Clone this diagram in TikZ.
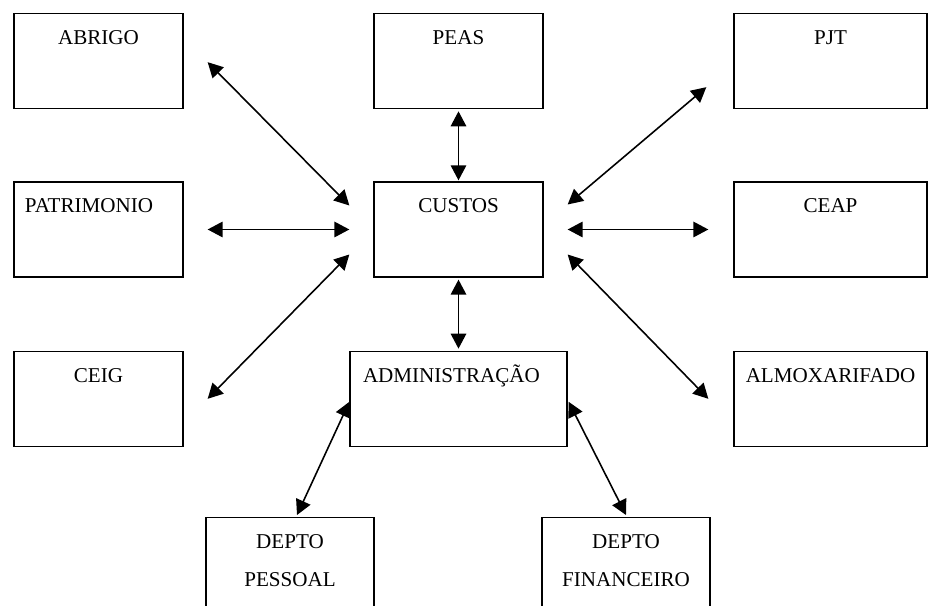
\documentclass[tikz,border=0pt]{standalone}
\usepackage{fontspec}
\setmainfont{Liberation Serif}
\usetikzlibrary{calc, arrows.meta, positioning}
\tikzset{
  setor/.style={draw, line width=0.75pt, anchor=north, minimum width=33.8mm, inner ysep=0pt,
    text height=6.2mm, text depth=12.8mm, align=center, font=\fontsize{12}{14.5}\selectfont},
  depto/.style={setor, minimum width=33.6mm, text height=13.8mm, text depth=20mm},
  fluxo/.style={{Triangle[length=3mm,width=3.1mm]}-{Triangle[length=3mm,width=3.1mm]}, line width=0.9pt}
}

\begin{document}
\begin{tikzpicture}[x=0.2mm, y=-0.2mm]
  \useasboundingbox (0,0) rectangle (945,605);
  \clip (0,0) rectangle (945,605);
  \node[setor] (abrigo) at (98.5,13) {ABRIGO};
  \node[setor, below=14.4mm of abrigo, inner xsep=2.2mm, text width=29.4mm, align=left] (patrimonio) {PATRIMONIO};
  \node[setor, below=14.6mm of patrimonio] (ceig) {CEIG};
  \node[setor] (peas) at (458.5,13) {PEAS};
  \node[setor, below=14.4mm of peas] (custos) {CUSTOS};
  \node[setor, below=14.6mm of custos, inner xsep=2.6mm, text width=38.2mm, align=left] (admin) {ADMINISTRAÇÃO};
  \node[setor, minimum width=38.6mm] (pjt) at (830.5,13) {PJT};
  \node[setor, minimum width=38.6mm, below=14.4mm of pjt] (ceap) {CEAP};
  \node[setor, minimum width=38.6mm, below=14.6mm of ceap] (almox) {ALMOXARIFADO};
  \node[depto] (pessoal) at (290,517) {DEPTO\\[7pt]PESSOAL};
  \node[depto] (financeiro) at (626,517) {DEPTO\\[7pt]FINANCEIRO};
  \draw[fluxo] ($(abrigo.east)+(24,1)$) -- ($(custos.west)+(-24,-24)$);
  \draw[fluxo] ($(patrimonio.east)+(24,0)$) -- ($(custos.west)+(-24,0)$);
  \draw[fluxo] ($(ceig.east)+(24,0)$) -- ($(custos.west)+(-24,25)$);
  \draw[fluxo] ($(peas.south)+(0,2)$) -- ($(custos.north)+(0,-1)$);
  \draw[fluxo] ($(custos.south)+(0,2)$) -- ($(admin.north)+(0,-2)$);
  \draw[fluxo] ($(custos.east)+(24,-25)$) -- ($(pjt.west)+(-27,26)$);
  \draw[fluxo] ($(custos.east)+(24,0)$) -- ($(ceap.west)+(-25,0)$);
  \draw[fluxo] ($(custos.east)+(24,25)$) -- ($(almox.west)+(-25,0)$);
  \draw[fluxo] ($(admin.west)+(0,3)$) -- ($(pessoal.north)+(7,-2)$);
  \draw[fluxo] ($(admin.east)+(1,3)$) -- ($(financeiro.north)+(0,-2)$);
\end{tikzpicture}
\end{document}
